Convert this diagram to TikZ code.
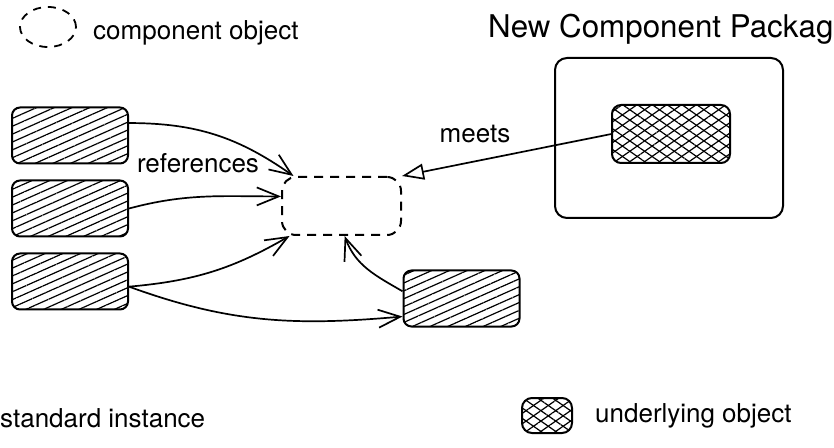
\documentclass[tikz,border=0pt]{standalone}
\usepackage{fontspec}
\setmainfont{TeX Gyre Heros}
\usetikzlibrary{arrows.meta, patterns.meta}

\begin{document}
\begin{tikzpicture}[x=1pt, y=1pt,
		>={Straight Barb[length=22pt,width=18pt]},
		lbl/.style={font=\fontsize{26}{30}\selectfont, inner sep=0pt},
		std/.style={draw, line width=2pt, rounded corners=8pt, minimum width=116pt, minimum height=56pt,
			pattern={Lines[angle=24,distance=7.2pt,line width=1.2pt]}},
		xhatch/.style={draw, line width=2pt, rounded corners=9pt,
			preaction={pattern={Lines[angle=35,distance=8.5pt,line width=1.2pt]}},
			pattern={Lines[angle=-35,distance=8.5pt,line width=1.2pt]}},
		comp/.style={draw, line width=2pt, dash pattern=on 9pt off 7pt, rounded corners=14pt,
			minimum width=119pt, minimum height=58pt},
		ref/.style={->, line width=1.7pt}]
			\useasboundingbox (0,0) rectangle (834,447);

			\draw[line width=1.8pt, dash pattern=on 8pt off 7pt] (48,420) ellipse [x radius=28, y radius=20];
			\node[lbl, anchor=base west] (legctxt) at (93,407) {component object};
			\node[font=\fontsize{31.3}{36}\selectfont, inner sep=0pt, anchor=base west] (title) at (488,409) {New Component Packag};

			\node[std] (box1) at (70,311.5) {};
			\node[std] (box2) at (70,238.5) {};
			\node[std] (box3) at (70,165.5) {};
			\node[std] (box4) at (461.5,148.5) {};
			\node[comp] (comp) at (341.5,241) {};

			\node[draw, line width=2pt, rounded corners=12pt, minimum width=228pt, minimum height=160pt] (pkg) at (669,309) {};
			\node[xhatch, minimum width=118pt, minimum height=58pt] (under) at (671,313) {};

			\node[lbl, anchor=base] (reftxt) at (198,274) {references};
			\node[lbl, anchor=base] (meettxt) at (475,304) {meets};

			\draw[ref] (box1.12) to[out=0, in=145] (comp.148);
			\draw[ref] (box2.east) to[out=15, in=180] (comp.171);
			\draw[ref] (box3.-5) to[out=5, in=-150] (comp.210);
			\draw[ref] (box3.-5) to[out=-20, in=185] (box4.197);
			\draw[ref] (box4.173) to[out=150, in=-70] (comp.-84);
			\draw[line width=1.7pt, -{Triangle[open,length=22pt,width=16pt]}] (under.west) -- (comp.north east);

			\node[lbl, anchor=base west] (stdtxt) at (0,20) {standard instance};
			\node[xhatch, minimum width=50pt, minimum height=35pt, rounded corners=10pt] (legx) at (547,31.5) {};
			\node[lbl, anchor=base west] (undtxt) at (595,25) {underlying object};
		\end{tikzpicture}
\end{document}
